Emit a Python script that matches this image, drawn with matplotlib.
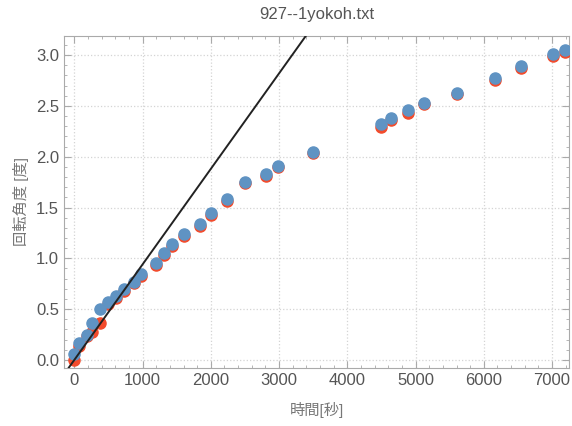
import numpy as np
import matplotlib.pyplot as plt
from matplotlib.ticker import MultipleLocator

# time [s]
t = [0, 70, 190, 260, 375, 490, 610, 730, 875, 980, 1200, 1310, 1430, 1600, 1840,
     2000, 2230, 2500, 2810, 2990, 3490, 4500, 4640, 4890, 5120, 5600, 6170, 6540,
     7010, 7190]
# rotation angle [deg], two series
ang_blue = [0.06, 0.17, 0.25, 0.36, 0.50, 0.57, 0.63, 0.70, 0.77, 0.85, 0.95, 1.05,
            1.14, 1.24, 1.34, 1.45, 1.58, 1.75, 1.83, 1.91, 2.05, 2.32, 2.38, 2.46,
            2.53, 2.63, 2.77, 2.89, 3.01, 3.05]
ang_red = [0.00, 0.14, 0.24, 0.27, 0.36, 0.55, 0.61, 0.68, 0.76, 0.83, 0.93, 1.03,
           1.12, 1.22, 1.32, 1.43, 1.56, 1.74, 1.81, 1.90, 2.04, 2.29, 2.36, 2.43,
           2.52, 2.62, 2.75, 2.87, 2.99, 3.03]
# fitted line y = slope * t
slope = 0.00094
xmin, xmax = -150, 7250
ymin, ymax = -0.08, 3.19

plt.rcParams['font.family'] = ['Liberation Sans', 'Noto Sans CJK JP', 'DejaVu Sans']

fig = plt.figure(figsize=(5.72, 4.26), dpi=100)
ax = fig.add_axes([0.112, 0.136, 0.883, 0.78])

ax.plot(t, ang_red, 'o', color='#f24b2c', markersize=8, zorder=3)
ax.plot(t, ang_blue, 'o', color='#5f93c3', markersize=8, zorder=4)
xl = np.array([xmin, xmax])
ax.plot(xl, slope * xl, '-', color='#222222', lw=1.4, zorder=5)

ax.set_xlim(xmin, xmax)
ax.set_ylim(ymin, ymax)
ax.xaxis.set_major_locator(MultipleLocator(1000))
ax.xaxis.set_minor_locator(MultipleLocator(200))
ax.yaxis.set_major_locator(MultipleLocator(0.5))
ax.yaxis.set_minor_locator(MultipleLocator(0.1))
ax.yaxis.set_major_formatter(plt.FuncFormatter(lambda v, p: f'{v:.1f}'))
ax.tick_params(which='both', direction='in', colors='#aaaaaa', labelcolor='#555555',
               labelsize=12, top=True, right=True)
ax.tick_params(which='major', length=5)
ax.tick_params(which='minor', length=2.5)
for s in ax.spines.values():
    s.set_color('#aaaaaa')
ax.grid(True, which='major', linestyle=':', color='#d4d4d4', lw=0.9)

ax.set_title('927--1yokoh.txt', color='#555555', fontsize=12, pad=12)
ax.set_xlabel('時間[秒]', color='#777777', fontsize=11, labelpad=10)
ax.set_ylabel('回転角度 [度]', color='#777777', fontsize=11, labelpad=5)

fig.savefig('out.png', dpi=100)
